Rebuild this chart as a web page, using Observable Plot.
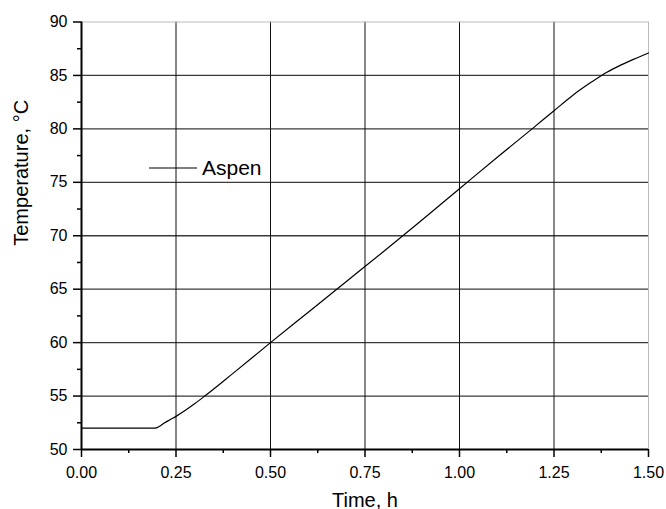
<!DOCTYPE html>
<html><head><meta charset="utf-8">
<script src="https://cdn.jsdelivr.net/npm/d3@7"></script>
<script src="https://cdn.jsdelivr.net/npm/@observablehq/plot@0.6"></script>
<style>
body{margin:0;background:#fff}
#wrap{position:relative;width:666px;height:509px;font-family:"Liberation Sans",Arial,sans-serif}
#legend{position:absolute;left:149px;top:156px;display:flex;align-items:center;font-size:21px;color:#000}
#legend svg{margin-right:5px}
</style>
</head><body><div id="wrap"><div id="legend"></div></div>
<script>
const timeH = [0, 0.05, 0.1, 0.15, 0.19, 0.2, 0.21, 0.22, 0.235, 0.25, 0.3, 0.326, 0.4, 0.5, 0.6, 0.7, 0.8, 0.9, 1.0, 1.1, 1.192, 1.25, 1.3, 1.35, 1.39, 1.42, 1.46, 1.5];
const tempC = [52, 52, 52, 52, 52, 52.05, 52.25, 52.5, 52.8, 53.1, 54.3, 55, 57.1, 60, 62.85, 65.7, 68.55, 71.45, 74.4, 77.35, 80, 81.7, 83.15, 84.4, 85.3, 85.85, 86.5, 87.1];
const seriesName = "Aspen";
const xTicks = [0, 0.25, 0.5, 0.75, 1.0, 1.25, 1.5];
const xMinor = [0.125, 0.375, 0.625, 0.875, 1.125, 1.375];
const yTicks = [50, 55, 60, 65, 70, 75, 80, 85, 90];
const yMinor = [52.5, 57.5, 62.5, 67.5, 72.5, 77.5, 82.5, 87.5];
const xTitle = "Time, h";
const yTitle = "Temperature, °C";

const data = timeH.map((t, i) => ({t, T: tempC[i]}));

const plot = Plot.plot({
  width: 666, height: 509,
  marginLeft: 81, marginRight: 18, marginTop: 21.5, marginBottom: 60,
  style: {fontFamily: '"Liberation Sans", Arial, sans-serif', fontSize: "16px", color: "#000", background: "#fff", overflow: "visible"},
  x: {domain: [0, 1.5]},
  y: {domain: [50, 90]},
  marks: [
    Plot.ruleY(yTicks.slice(1, -1), {stroke: "#3a3a3a", strokeWidth: 1.3}),
    Plot.ruleX(xTicks.slice(1, -1), {stroke: "#111", strokeWidth: 1}),
    Plot.ruleY([90], {stroke: "#bbb", strokeWidth: 1}),
    Plot.ruleX([1.5], {stroke: "#bbb", strokeWidth: 1}),
    Plot.line(data, {x: "t", y: "T", stroke: "#000", strokeWidth: 1.2, curve: "monotone-x"}),
    Plot.axisX(xMinor, {tickSize: 4, tickFormat: () => "", label: null, strokeWidth: 1.5, strokeOpacity: 1}),
    Plot.axisX(xTicks, {tickSize: 8, tickPadding: 9, tickFormat: d => d.toFixed(2), label: null, strokeWidth: 1.5, strokeOpacity: 1, fontSize: 16}),
    Plot.axisY(yMinor, {tickSize: 4, tickFormat: () => "", label: null, strokeWidth: 1.5, strokeOpacity: 1}),
    Plot.axisY(yTicks, {tickSize: 8, tickPadding: 6, label: null, strokeWidth: 1.5, strokeOpacity: 1, fontSize: 16}),
    Plot.ruleY([50], {stroke: "#000", strokeWidth: 2}),
    Plot.ruleX([0], {stroke: "#000", strokeWidth: 2}),
    Plot.text([xTitle], {frameAnchor: "bottom", dy: 57, lineAnchor: "bottom", fontSize: 20}),
    Plot.text([yTitle], {frameAnchor: "left", dx: -60, dy: 10, rotate: -90, lineAnchor: "middle", fontSize: 20})
  ]
});
document.getElementById("wrap").prepend(plot);

const leg = document.getElementById("legend");
leg.innerHTML = `<svg width="48" height="4"><line x1="0" x2="48" y1="2" y2="2" stroke="#000" stroke-width="1.2"/></svg><span>${seriesName}</span>`;
</script>
</body></html>
